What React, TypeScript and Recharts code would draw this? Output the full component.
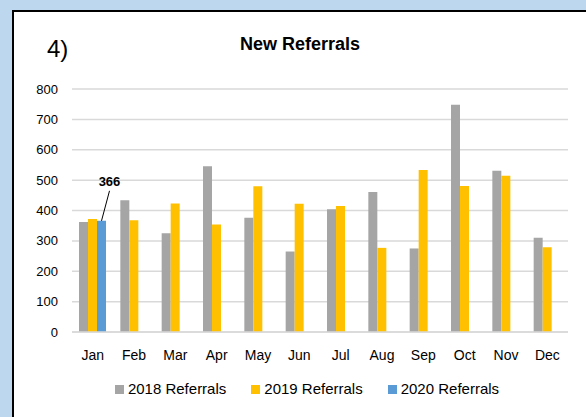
import React from 'react';
import { BarChart, Bar, XAxis, YAxis, CartesianGrid, LabelList } from 'recharts';

const months = ['Jan', 'Feb', 'Mar', 'Apr', 'May', 'Jun', 'Jul', 'Aug', 'Sep', 'Oct', 'Nov', 'Dec'];
const referrals2018 = [362, 434, 325, 546, 376, 265, 404, 461, 275, 748, 531, 310];
const referrals2019 = [372, 368, 423, 354, 480, 422, 415, 277, 533, 481, 514, 279];
const referrals2020: (number | null)[] = [366, null, null, null, null, null, null, null, null, null, null, null];
const yTicks = [0, 100, 200, 300, 400, 500, 600, 700, 800];

const seriesNames = ['2018 Referrals', '2019 Referrals', '2020 Referrals'];
const seriesColors = ['#A5A5A5', '#FFC000', '#5B9BD5'];

const data = months.map((m, i) => ({
  month: m,
  r2018: referrals2018[i],
  r2019: referrals2019[i],
  r2020: referrals2020[i],
}));

const FONT = '"Liberation Sans", Arial, sans-serif';

const CalloutLabel = (props: any) => {
  const { x, y, width, value } = props;
  if (value == null) return null;
  const cx = x + width / 2;
  return (
    <g>
      <line x1={cx} y1={y} x2={cx + 8} y2={y - 30} stroke="#000" strokeWidth={1} />
      <text x={cx + 8} y={y - 35} textAnchor="middle" fontSize={13} fontWeight="bold" fill="#000" fontFamily={FONT}>
        {value}
      </text>
    </g>
  );
};

export default function App() {
  return (
    <div style={{ position: 'absolute', left: 0, top: 0, width: 586, height: 417, background: '#BDD7EE', overflow: 'hidden', fontFamily: FONT }}>
      <div style={{ position: 'absolute', left: 12, top: 10, width: 600, height: 420, background: '#fff', borderLeft: '2px solid #000', borderTop: '2px solid #000' }} />
      <svg style={{ position: 'absolute', left: 0, top: 0 }} width={586} height={417}>
        <text x={47} y={57} fontSize={24} fill="#000" fontFamily={FONT}>4)</text>
        <text x={300} y={50} fontSize={18} fontWeight="bold" textAnchor="middle" fill="#000" fontFamily={FONT}>New Referrals</text>
      </svg>
      <div style={{ position: 'absolute', left: 0, top: 0 }}>
        <BarChart
          width={586}
          height={417}
          data={data}
          margin={{ top: 89, right: 18, left: 0, bottom: 0 }}
          barCategoryGap={7}
          barGap={0}
        >
          <CartesianGrid vertical={false} stroke="#D9D9D9" strokeWidth={1.5} />
          <XAxis
            dataKey="month"
            height={85}
            tickLine={false}
            axisLine={{ stroke: '#D9D9D9', strokeWidth: 1.5 }}
            tickSize={0}
            tickMargin={18}
            tick={{ fontSize: 14, fill: '#000', fontFamily: FONT }}
            interval={0}
          />
          <YAxis
            width={72}
            domain={[0, 800]}
            ticks={yTicks}
            tickLine={false}
            axisLine={false}
            tickSize={0}
            tickMargin={14}
            tick={{ fontSize: 13, fill: '#000', fontFamily: FONT }}
          />
          <Bar dataKey="r2018" name={seriesNames[0]} fill={seriesColors[0]} isAnimationActive={false} />
          <Bar dataKey="r2019" name={seriesNames[1]} fill={seriesColors[1]} isAnimationActive={false} />
          <Bar dataKey="r2020" name={seriesNames[2]} fill={seriesColors[2]} isAnimationActive={false}>
            <LabelList dataKey="r2020" content={CalloutLabel} />
          </Bar>
        </BarChart>
      </div>
      <div style={{ position: 'absolute', left: 0, top: 380, width: 614, display: 'flex', justifyContent: 'center', alignItems: 'center', gap: 25, fontSize: 15, color: '#000', lineHeight: '18px' }}>
        {seriesNames.map((n, i) => (
          <div key={n} style={{ display: 'flex', alignItems: 'center' }}>
            <span style={{ display: 'inline-block', width: 9, height: 9, background: seriesColors[i], marginRight: 4 }} />
            <span>{n}</span>
          </div>
        ))}
      </div>
    </div>
  );
}
